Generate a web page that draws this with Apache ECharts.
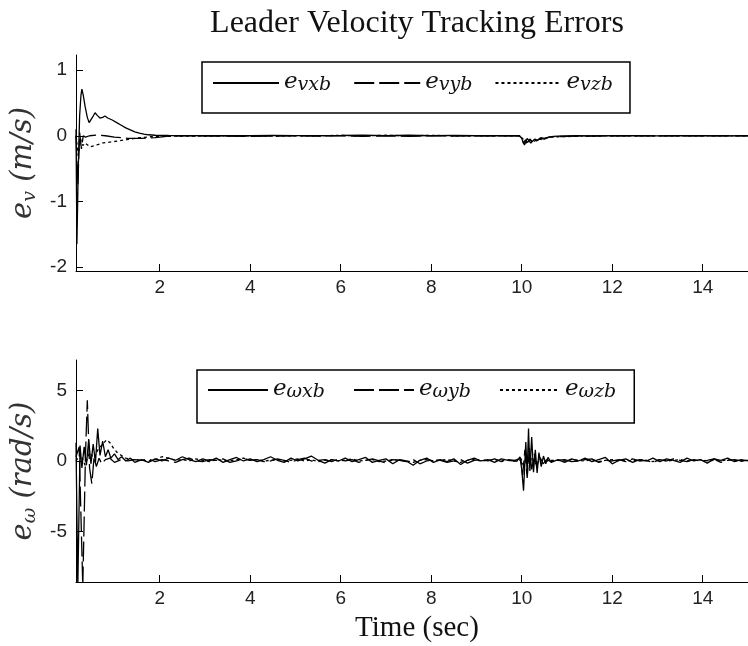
<!DOCTYPE html>
<html>
<head>
<meta charset="utf-8">
<script src="https://cdn.jsdelivr.net/npm/echarts@6.0.0/dist/echarts.min.js"></script>
<style>
  html, body { margin: 0; padding: 0; background: #fff; }
  #chart { width: 748px; height: 646px; }
</style>
</head>
<body>
<div id="chart"></div>
<script>
// ---- sample times (s) for the steady stretches ----
const steadyT = [1.6, 1.75, 1.9, 2.05, 2.2, 2.35, 2.5, 2.65, 2.8, 2.95, 3.1, 3.25, 3.4, 3.55, 3.7, 3.85,
  4.0, 4.15, 4.3, 4.45, 4.6, 4.75, 4.9, 5.05, 5.2, 5.35, 5.5, 5.65, 5.8, 5.95, 6.1, 6.25, 6.4, 6.55,
  6.7, 6.85, 7.0, 7.15, 7.3, 7.45, 7.6, 7.75, 7.9, 8.05, 8.2, 8.35, 8.5, 8.65, 8.8, 8.95, 9.1, 9.25,
  9.4, 9.55, 9.7, 9.85];
const settledT = [10.8, 10.95, 11.1, 11.25, 11.4, 11.55, 11.7, 11.85, 12.0, 12.15, 12.3, 12.45, 12.6,
  12.75, 12.9, 13.05, 13.2, 13.35, 13.5, 13.65, 13.8, 13.95, 14.1, 14.25, 14.4, 14.55, 14.7, 14.85, 15.0];
const topSteadyT = [2.2, 2.6, 3.0, 3.5, 4.0, 4.5, 5.0, 5.5, 6.0, 6.5, 7.0, 7.5, 8.0, 8.5, 9.0, 9.5, 9.9];
const topSettledT = [10.8, 11.2, 11.6, 12.0, 12.5, 13.0, 13.5, 14.0, 14.5, 15.0];

// ---- linear velocity errors e_v (m/s) ----
const vxbHeadT = [0.15, 0.17, 0.2, 0.23, 0.26, 0.28, 0.31, 0.35, 0.4, 0.44, 0.48, 0.53, 0.57, 0.62,
  0.68, 0.74, 0.79, 0.85, 0.95, 1.05, 1.15, 1.25, 1.35, 1.45, 1.55, 1.65, 1.75, 1.9];
const vxbHeadV = [0.1, -1.65, -0.5, 0.3, 0.62, 0.71, 0.62, 0.45, 0.28, 0.2, 0.22, 0.3, 0.35, 0.31,
  0.27, 0.28, 0.3, 0.27, 0.24, 0.2, 0.16, 0.12, 0.09, 0.06, 0.04, 0.025, 0.015, 0.008];
const vxbSteady = [0.004, 0.002, 0.0, 0.003, 0.0, 0.006, 0.002, 0.0, 0.004, 0.01, 0.002, 0.008, 0.0, 0.005, 0.0, 0.002, 0.0];
const vxbBurstT = [9.95, 10.0, 10.04, 10.08, 10.13, 10.18, 10.23, 10.29, 10.35, 10.42, 10.5, 10.6, 10.7];
const vxbBurstV = [0.0, -0.04, -0.12, -0.06, -0.1, -0.05, -0.09, -0.05, -0.07, -0.03, -0.04, -0.02, -0.01];
const vxbSettled = [-0.005, 0.0, -0.002, 0.0, 0.0, -0.002, 0.0, 0.0, -0.002, 0.0];

const vybHeadT = [0.15, 0.19, 0.23, 0.27, 0.31, 0.36, 0.45, 0.6, 0.8, 1.0, 1.3, 1.6, 1.9];
const vybHeadV = [0.0, -0.75, 0.05, -0.2, 0.0, -0.02, 0.0, 0.01, 0.0, -0.02, -0.04, -0.04, -0.03];
const vybSteady = [-0.005, -0.002, 0.0, -0.006, -0.01, -0.004, 0.0, -0.005, 0.0, -0.01, 0.0, -0.008, 0.0, -0.005, 0.0, -0.003, 0.0];
const vybBurstT = [9.95, 10.02, 10.06, 10.12, 10.2, 10.27, 10.33, 10.4, 10.5, 10.6, 10.7];
const vybBurstV = [0.0, -0.08, -0.14, -0.04, -0.11, -0.05, -0.08, -0.04, -0.05, -0.02, -0.015];
const vybSettled = [-0.012, -0.006, -0.004, -0.002, 0.0, -0.003, 0.0, -0.002, 0.0, 0.0];

const vzbHeadT = [0.15, 0.2, 0.25, 0.3, 0.35, 0.46, 0.61, 0.75, 0.97, 1.27, 1.56, 1.8];
const vzbHeadV = [0.0, -0.3, -0.05, -0.15, -0.11, -0.17, -0.14, -0.11, -0.09, -0.06, -0.03, -0.015];
const vzbSteady = [-0.008, -0.005, -0.004, -0.002, 0.0, -0.004, -0.002, 0.0, 0.006, -0.004, 0.008, 0.0, 0.006, 0.0, -0.002, 0.0, 0.0];
const vzbBurstT = [9.95, 10.03, 10.1, 10.18, 10.26, 10.35, 10.45, 10.55, 10.7];
const vzbBurstV = [0.0, -0.05, -0.11, -0.06, -0.1, -0.04, -0.06, -0.03, -0.015];
const vzbSettled = [-0.015, -0.008, -0.004, -0.002, 0.0, -0.002, 0.0, 0.0, -0.002, 0.0];

// ---- angular velocity errors e_ω (rad/s) ----
const wxbHeadT = [0.15, 0.19, 0.24, 0.28, 0.33, 0.38, 0.43, 0.48, 0.53, 0.58, 0.63, 0.68, 0.74, 0.8,
  0.86, 0.92, 1.0, 1.08, 1.16, 1.25, 1.35, 1.45];
const wxbHeadV = [1.3, -8.9, 1.1, -0.5, 1.0, -0.3, 1.5, -0.2, 1.2, -0.1, 2.3, 0.4, 1.4, 0.3,
  0.8, 0.2, 0.5, 0.1, 0.3, 0.0, 0.2, -0.1];
const wxbSteady = [0.1, -0.1, 0.15, 0.0, 0.2, 0.05, 0.3, 0.1, -0.05, 0.15,
  0.0, 0.2, -0.1, 0.1, 0.25, 0.0, 0.15, -0.05, 0.1, 0.3,
  0.05, -0.1, 0.2, 0.0, 0.15, 0.35, 0.05, -0.15, 0.1, 0.0,
  0.2, -0.05, 0.1, 0.25, -0.1, 0.05, 0.15, -0.2, 0.1, 0.0,
  -0.3, 0.05, 0.2, -0.1, 0.1, -0.05, 0.15, -0.25, 0.05, 0.2,
  0.0, 0.1, -0.1, 0.15, 0.05, 0.0];
const wxbBurstT = [9.9, 9.96, 10.0, 10.04, 10.09, 10.12, 10.15, 10.18, 10.22, 10.26, 10.3, 10.34,
  10.38, 10.43, 10.48, 10.53, 10.58, 10.65];
const wxbBurstV = [0.0, 0.3, -0.6, -2.1, 1.35, -0.9, 2.3, -0.7, 1.7, -0.8, 0.8, -0.85,
  0.6, -0.4, 0.35, -0.2, 0.25, -0.1];
const wxbSettled = [0.1, -0.1, 0.15, 0.0, 0.2, -0.05, 0.1, 0.25, -0.2, 0.05,
  0.15, -0.1, 0.1, 0.0, 0.2, -0.05, 0.15, 0.05, -0.1, 0.2,
  0.0, 0.1, -0.15, 0.15, 0.05, 0.2, -0.05, 0.1, 0.0];

const wybHeadT = [0.15, 0.22, 0.3, 0.36, 0.4, 0.45, 0.5, 0.55, 0.6, 0.66, 0.72, 0.8, 0.9, 1.0, 1.15, 1.3, 1.45];
const wybHeadV = [0.3, 1.0, -8.9, 0.5, 4.3, -0.5, -1.6, 0.3, -0.4, 0.2, -0.2, 0.1, 0.2, -0.1, 0.1, 0.0, 0.1];
const wybSteady = [0.05, 0.15, -0.05, 0.1, 0.0, -0.1, 0.1, 0.2, 0.0, -0.05,
  0.1, 0.05, 0.15, -0.1, 0.0, 0.2, 0.05, 0.1, -0.05, 0.0,
  0.15, 0.05, -0.1, 0.1, 0.2, 0.0, 0.05, 0.1, -0.05, 0.15,
  0.0, 0.1, -0.1, 0.05, 0.15, 0.0, -0.15, 0.1, 0.05, -0.05,
  0.1, -0.2, 0.0, 0.1, 0.05, -0.1, 0.0, 0.1, -0.15, 0.05,
  0.1, 0.0, 0.15, -0.05, 0.1, 0.05];
const wybBurstT = [9.98, 10.02, 10.07, 10.12, 10.17, 10.22, 10.28, 10.33, 10.4, 10.47, 10.55, 10.65];
const wybBurstV = [0.2, -1.0, 0.8, -1.2, 0.9, -0.6, 0.5, -0.4, 0.3, -0.2, 0.1, -0.05];
const wybSettled = [0.05, 0.1, -0.05, 0.0, 0.1, 0.15, -0.1, 0.05, 0.0, 0.1,
  -0.05, 0.15, 0.0, 0.05, -0.1, 0.1, 0.0, 0.15, 0.05, -0.05,
  0.1, 0.0, 0.05, 0.15, -0.1, 0.05, 0.1, 0.0, 0.05];

const wzbHeadT = [0.15, 0.25, 0.35, 0.45, 0.55, 0.65, 0.75, 0.82, 0.9, 0.98, 1.06, 1.15, 1.25, 1.4];
const wzbHeadV = [0.0, 0.5, -0.3, 0.6, 0.2, 0.9, 1.2, 1.5, 1.3, 0.9, 0.6, 0.4, 0.2, 0.1];
const wzbSteady = [0.05, 0.0, 0.1, 0.3, 0.2, 0.05, 0.1, 0.0, 0.15, 0.05,
  -0.05, 0.1, 0.05, 0.0, 0.1, 0.2, 0.05, 0.1, 0.0, 0.05,
  0.1, 0.0, 0.05, 0.15, 0.0, 0.1, -0.05, 0.05, 0.1, 0.0,
  0.05, 0.15, 0.0, 0.05, 0.1, -0.05, 0.0, 0.1, 0.05, 0.0,
  -0.1, 0.05, 0.1, 0.0, 0.05, 0.1, 0.0, -0.1, 0.05, 0.1,
  0.0, 0.05, 0.1, 0.0, 0.05, 0.0];
const wzbBurstT = [10.0, 10.05, 10.1, 10.16, 10.22, 10.3, 10.4, 10.5, 10.65];
const wzbBurstV = [0.1, -0.5, 0.4, -0.4, 0.3, -0.2, 0.1, -0.05, 0.05];
const wzbSettled = [0.05, 0.0, 0.1, 0.05, 0.0, 0.1, -0.05, 0.05, 0.1, 0.0,
  0.05, 0.0, 0.1, 0.05, -0.05, 0.1, 0.0, 0.05, 0.1, 0.0,
  0.05, 0.1, 0.0, 0.05, 0.0, 0.1, 0.05, 0.0, 0.05];

// ---- axis ticks ----
const timeTicks = [2, 4, 6, 8, 10, 12, 14];
const velTicks = [-2, -1, 0, 1];
const angTicks = [-5, 0, 5];

function pairs(t, v) { return t.map((x, i) => [x, v[i]]); }
function join(...parts) { return [].concat(...parts); }

const vxb = join(pairs(vxbHeadT, vxbHeadV), pairs(topSteadyT, vxbSteady), pairs(vxbBurstT, vxbBurstV), pairs(topSettledT, vxbSettled));
const vyb = join(pairs(vybHeadT, vybHeadV), pairs(topSteadyT, vybSteady), pairs(vybBurstT, vybBurstV), pairs(topSettledT, vybSettled));
const vzb = join(pairs(vzbHeadT, vzbHeadV), pairs(topSteadyT, vzbSteady), pairs(vzbBurstT, vzbBurstV), pairs(topSettledT, vzbSettled));
const wxb = join(pairs(wxbHeadT, wxbHeadV), pairs(steadyT, wxbSteady), pairs(wxbBurstT, wxbBurstV), pairs(settledT, wxbSettled));
const wyb = join(pairs(wybHeadT, wybHeadV), pairs(steadyT, wybSteady), pairs(wybBurstT, wybBurstV), pairs(settledT, wybSettled));
const wzb = join(pairs(wzbHeadT, wzbHeadV), pairs(steadyT, wzbSteady), pairs(wzbBurstT, wzbBurstV), pairs(settledT, wzbSettled));

const tickFont = '"Liberation Sans Narrow", "Liberation Sans", Arial, sans-serif';
const mathFont = '"DejaVu Serif", serif';
const romanFont = '"Liberation Serif", "Times New Roman", serif';

const solid = { color: '#000', width: 1.3, type: 'solid' };
const dashed = { color: '#000', width: 1.3, type: [20, 5] };
const dotted = { color: '#000', width: 1.3, type: [3, 3] };

function lineSeries(name, data, axis, style) {
  return {
    name, type: 'line', data, xAxisIndex: axis, yAxisIndex: axis,
    symbol: 'none', showSymbol: false, smooth: false,
    lineStyle: style, itemStyle: { color: '#000' },
    animation: false, silent: true
  };
}

// subscripted math label pieces
const legendRich = {
  e: { fontFamily: mathFont, fontStyle: 'italic', fontSize: 23, lineHeight: 24, verticalAlign: 'top', color: '#111' },
  s: { fontFamily: mathFont, fontStyle: 'italic', fontSize: 19, lineHeight: 12, verticalAlign: 'bottom', color: '#111' }
};
const nameRich = {
  e: { fontFamily: mathFont, fontStyle: 'italic', fontSize: 29, lineHeight: 30, verticalAlign: 'top', color: '#333' },
  s: { fontFamily: mathFont, fontStyle: 'italic', fontSize: 19, lineHeight: 16, verticalAlign: 'bottom', color: '#333' },
  p: { fontFamily: mathFont, fontStyle: 'italic', fontSize: 29, lineHeight: 30, verticalAlign: 'top', color: '#333' }
};

function xAxisFor(grid, withName) {
  const ax = {
    type: 'value', gridIndex: grid, min: 0.15, max: 15,
    axisLine: { show: true, onZero: false, lineStyle: { color: '#000', width: 1 } },
    axisTick: { show: true, inside: true, length: 7, customValues: timeTicks, lineStyle: { color: '#000' } },
    axisLabel: { customValues: timeTicks, margin: 7, color: '#222', fontFamily: tickFont, fontSize: 19 },
    splitLine: { show: false }
  };
  if (withName) {
    ax.name = 'Time (sec)';
    ax.nameLocation = 'middle';
    ax.nameGap = 32;
    ax.nameTextStyle = { fontFamily: romanFont, fontSize: 29, color: '#111', padding: [0, 0, 0, 10] };
  }
  return ax;
}

function yAxisFor(grid, min, max, ticks, name) {
  return {
    type: 'value', gridIndex: grid, min, max,
    axisLine: { show: true, lineStyle: { color: '#000', width: 1 } },
    axisTick: { show: true, inside: true, length: 7, customValues: ticks, lineStyle: { color: '#000' } },
    axisLabel: { customValues: ticks, margin: 9, color: '#222', fontFamily: tickFont, fontSize: 19,
      formatter: v => String(v) },
    splitLine: { show: false },
    name, nameLocation: 'middle', nameRotate: 90, nameGap: 27,
    nameTextStyle: { rich: nameRich, fontFamily: mathFont, fontSize: 29 }
  };
}

function legendFor(names, left, top, itemWidth, itemGap, padding) {
  return {
    data: names, left, top, orient: 'horizontal', selectedMode: false,
    itemWidth, itemHeight: 14, itemGap, padding,
    itemStyle: { opacity: 0 },
    borderColor: '#000', borderWidth: 1.5, backgroundColor: '#fff',
    formatter: n => '{e|e}{s|' + n.slice(2) + '}',
    textStyle: { rich: legendRich, fontFamily: mathFont, fontSize: 22 }
  };
}

const chart = echarts.init(document.getElementById('chart'), null, { renderer: 'canvas' });
chart.setOption({
  backgroundColor: '#fff',
  animation: false,
  title: {
    text: 'Leader Velocity Tracking Errors',
    left: 417, top: 8, padding: 0, textAlign: 'center',
    textStyle: { fontFamily: romanFont, fontSize: 32, fontWeight: 'normal', color: '#111' }
  },
  grid: [
    { left: 76, width: 675, top: 55, height: 216 },
    { left: 76, width: 675, top: 360, height: 222 }
  ],
  xAxis: [xAxisFor(0, false), xAxisFor(1, true)],
  yAxis: [
    yAxisFor(0, -2.06, 1.23, velTicks, '{e|e}{s|v}{p| (m/s)}'),
    yAxisFor(1, -8.58, 7.16, angTicks, '{e|e}{s|ω}{p| (rad/s)}')
  ],
  legend: [
    legendFor(['e_vxb', 'e_vyb', 'e_vzb'], 202, 62, 66, 22, [9, 17, 18, 10]),
    legendFor(['e_ωxb', 'e_ωyb', 'e_ωzb'], 197, 370, 60, 28, [8, 18, 21, 10])
  ],
  series: [
    lineSeries('e_vxb', vxb, 0, solid),
    lineSeries('e_vyb', vyb, 0, dashed),
    lineSeries('e_vzb', vzb, 0, dotted),
    lineSeries('e_ωxb', wxb, 1, solid),
    lineSeries('e_ωyb', wyb, 1, dashed),
    lineSeries('e_ωzb', wzb, 1, dotted)
  ]
});
</script>
</body>
</html>
